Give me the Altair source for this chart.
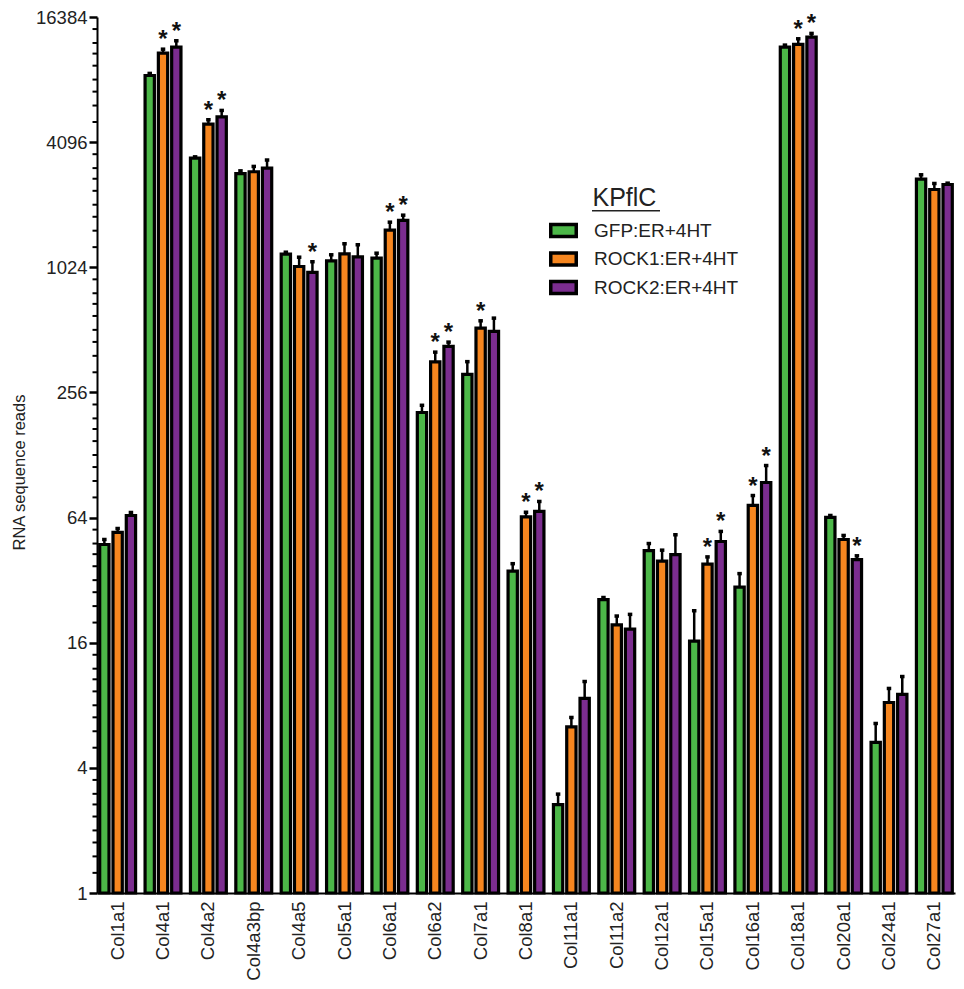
import altair as alt
import pandas as pd

FONT = "Liberation Sans"

genes = ["Col1a1", "Col4a1", "Col4a2", "Col4a3bp", "Col4a5", "Col5a1", "Col6a1",
         "Col6a2", "Col7a1", "Col8a1", "Col11a1", "Col11a2", "Col12a1", "Col15a1",
         "Col16a1", "Col18a1", "Col20a1", "Col24a1", "Col27a1"]
groups = ["GFP:ER+4HT", "ROCK1:ER+4HT", "ROCK2:ER+4HT"]
colors = ["#4cb748", "#f6861f", "#7b2d8f"]

gfp_mean = [47.5, 8570, 3430, 2890, 1184, 1100, 1133, 205, 313, 35.4, 2.66, 25.8,
            44.4, 16.3, 29.6, 11730, 64.1, 5.30, 2718]
gfp_sem = [2.7, 200, 50, 90, 26, 76, 64, 17, 47, 3.0, 0.33, 0.6,
           3.6, 6.5, 4.8, 270, 1.4, 1.24, 135]
rock1_mean = [54.3, 10980, 5000, 2950, 1033, 1189, 1544, 359, 522, 64.5, 6.30, 19.5,
              39.5, 38.2, 73.2, 12090, 50.2, 8.25, 2424]
rock1_sem = [2.4, 490, 250, 180, 112, 140, 144, 41, 44, 3.4, 0.69, 2.0,
             5.1, 3.2, 8.5, 780, 2.3, 1.39, 167]
rock2_mean = [65.5, 11730, 5420, 3070, 967, 1150, 1720, 426, 503, 68.5, 8.63, 18.6,
              42.5, 49.1, 94.4, 13100, 40.2, 9.02, 2562]
rock2_sem = [2.2, 860, 400, 290, 122, 164, 104, 21, 80, 8.0, 1.78, 3.3,
             10.4, 5.8, 19.5, 560, 1.7, 1.98, 38]

gfp_sig = []
rock1_sig = ["Col4a1", "Col4a2", "Col6a1", "Col6a2", "Col7a1", "Col8a1", "Col15a1",
             "Col16a1", "Col18a1"]
rock2_sig = ["Col4a1", "Col4a2", "Col4a5", "Col6a1", "Col6a2", "Col8a1", "Col15a1",
             "Col16a1", "Col18a1", "Col20a1"]

y_ticks = [1, 4, 16, 64, 256, 1024, 4096, 16384]
minor_mult = [1.25, 1.5, 1.75, 2, 2.333, 2.667, 3, 3.5]

rows = []
for grp, means, sems, sig in zip(groups,
                                 [gfp_mean, rock1_mean, rock2_mean],
                                 [gfp_sem, rock1_sem, rock2_sem],
                                 [gfp_sig, rock1_sig, rock2_sig]):
    for gene, m, s in zip(genes, means, sems):
        rows.append({"gene": gene, "group": grp, "mean": m, "upper": m + s,
                     "sig": "*" if gene in sig else ""})
df = pd.DataFrame(rows)
minor_df = pd.DataFrame({"v": [t * m for t in y_ticks[:-1] for m in minor_mult]})
title_df = pd.DataFrame({"t": ["KPflC"]})

YTITLE = "RNA sequence reads"
yscale = alt.Scale(type="log", base=2, domain=[1, 16384], nice=False)

xenc = alt.X("gene:N", sort=genes,
             scale=alt.Scale(paddingInner=0.13, paddingOuter=0.02),
             axis=alt.Axis(title=None, labelAngle=-90, ticks=False, labelPadding=8,
                           labelFontSize=18.5))
xoff = alt.XOffset("group:N", sort=groups,
                   scale=alt.Scale(paddingInner=0.3, paddingOuter=0.135))

bars = alt.Chart(df).mark_bar(stroke="black", strokeWidth=3.2, opacity=1).encode(
    x=xenc,
    xOffset=xoff,
    y=alt.Y("mean:Q", scale=yscale, title=YTITLE,
            axis=alt.Axis(values=y_ticks, format="d", tickSize=8, tickWidth=2.5,
                          labelPadding=2, labelFontSize=18.5, titleFontSize=16.5,
                          titleFontWeight="normal", titleX=-70, titleY=455)),
    y2=alt.datum(1),
    color=alt.Color("group:N",
                    scale=alt.Scale(domain=groups, range=colors),
                    legend=alt.Legend(title=None, orient="none", legendX=452, legendY=199,
                                      symbolType="M-1,-0.47H1V0.47H-1Z", symbolSize=650,
                                      symbolStrokeColor="black", symbolStrokeWidth=3.5,
                                      symbolOpacity=1, labelFontSize=19, labelFont=FONT,
                                      labelColor="#222", labelOffset=16, rowPadding=0.5,
                                      padding=0, offset=0)),
)

err = alt.Chart(df).mark_rule(color="black", strokeWidth=2.5).encode(
    x=xenc, xOffset=xoff,
    y=alt.Y("mean:Q", scale=yscale, title=YTITLE),
    y2="upper:Q",
)

caps = alt.Chart(df).mark_tick(color="black", orient="horizontal", size=4.5,
                               thickness=3.5, opacity=1).encode(
    x=xenc, xOffset=xoff,
    y=alt.Y("upper:Q", scale=yscale, title=YTITLE),
)

stars = alt.Chart(df).transform_filter("datum.sig == '*'").mark_text(
    fontSize=24, fontWeight="bold", dy=-2, baseline="alphabetic", font=FONT,
    color="#111").encode(
    x=xenc, xOffset=xoff,
    y=alt.Y("upper:Q", scale=yscale, title=YTITLE),
    text="sig:N",
)

minor = alt.Chart(minor_df).mark_rule(color="black", strokeWidth=2).encode(
    y=alt.Y("v:Q", scale=yscale, title=YTITLE),
    x=alt.value(-4.5), x2=alt.value(0),
)

legend_title = alt.Chart(title_df).mark_text(
    align="left", baseline="alphabetic", fontSize=25, font=FONT, color="#222").encode(
    x=alt.value(495.5), y=alt.value(189), text="t:N")

underline = alt.Chart(title_df).mark_rule(color="#222", strokeWidth=1.5).encode(
    x=alt.value(495), x2=alt.value(563), y=alt.value(193.7))

chart = alt.layer(bars, err, caps, stars, minor, legend_title, underline).properties(
    width=858, height=876,
    autosize=alt.AutoSizeParams(type="none"),
    padding={"left": 89, "top": 9, "right": 1, "bottom": 88},
).configure_view(stroke=None).configure_axis(
    domainColor="black", domainWidth=2, tickColor="black", labelColor="#222",
    titleColor="#222", labelFont=FONT, titleFont=FONT, grid=False,
)

chart.save("out.html", embed_options={"renderer": "svg", "actions": False})
